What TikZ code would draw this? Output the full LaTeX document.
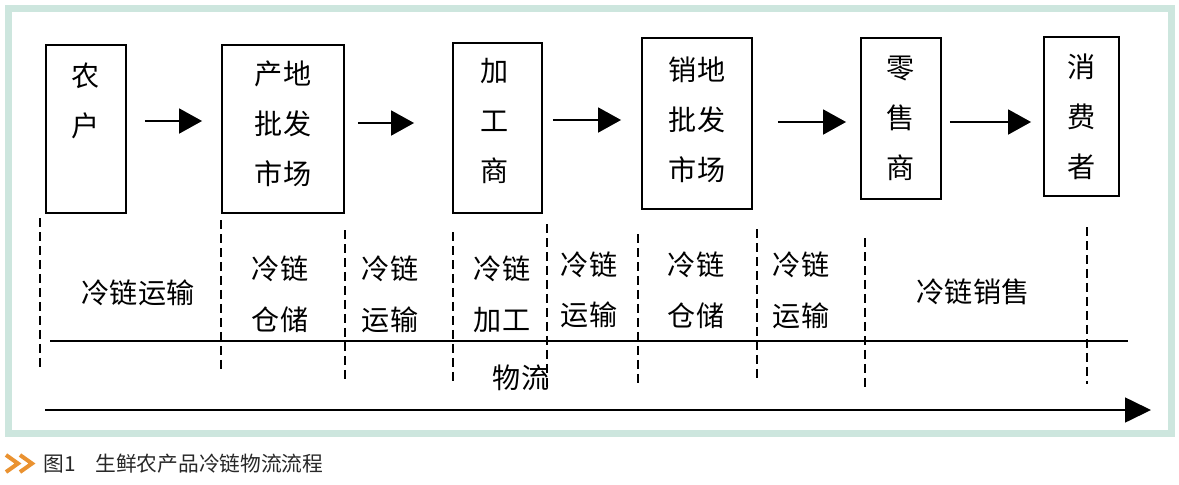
\documentclass[tikz,border=0pt]{standalone}
\usepackage{fontspec}
\setmainfont{Noto Sans CJK SC}
\usetikzlibrary{arrows.meta,calc}
\definecolor{framegreen}{RGB}{205,230,222}
\definecolor{captionorange}{RGB}{234,146,48}
\definecolor{captiongray}{RGB}{40,40,40}
\tikzset{
  stage/.style={draw, line width=1.1pt, inner sep=0pt},
  boxtext/.style={align=center, inner sep=0pt, font=\fontsize{16}{28.5}\selectfont},
  steptext/.style={align=center, inner sep=0pt, font=\fontsize{16}{28.8}\selectfont},
  flow/.style={line width=1.1pt, -{Triangle[length=0.46cm,width=0.5cm]}},
  divider/.style={line width=0.7pt, dash pattern=on 0.18cm off 0.1cm},
  captiontext/.style={inner sep=0pt, text=captiongray, font=\fontsize{11.8}{14}\selectfont},
}

\begin{document}
\begin{tikzpicture}[x=0.02cm, y=-0.02cm]
\useasboundingbox (0,0) rectangle (1179,484);
\fill[white] (0,0) rectangle (1179,484);
\draw[framegreen, line width=0.14cm] (8.5,8.5) rectangle (1171,433);

\node[stage, minimum width=1.6cm, minimum height=3.36cm] (farmer) at (86,129) {};
\node[stage, minimum width=2.44cm, minimum height=3.36cm] (originmarket) at (283,129) {};
\node[stage, minimum width=1.78cm, minimum height=3.4cm] (processor) at (497.5,128) {};
\node[stage, minimum width=2.2cm, minimum height=3.42cm] (salesmarket) at (697,123.5) {};
\node[stage, minimum width=1.6cm, minimum height=3.22cm] (retailer) at (901,118.5) {};
\node[stage, minimum width=1.5cm, minimum height=3.18cm] (consumer) at (1081.5,116.5) {};

\node[boxtext] (farmer-t) at (86,100.5) {农\\户};
\node[boxtext] (originmarket-t) at (283,124) {产地\\批发\\市场};
\node[boxtext] (processor-t) at (495,121) {加\\工\\商};
\node[boxtext] (salesmarket-t) at (697,120) {销地\\批发\\市场};
\node[boxtext] (retailer-t) at (901,118) {零\\售\\商};
\node[boxtext] (consumer-t) at (1081.5,117) {消\\费\\者};

\draw[flow, shorten <=0.36cm, shorten >=0.38cm] (farmer.east |- 0,121) -- (originmarket.west |- 0,121);
\draw[flow, shorten <=0.26cm, shorten >=0.76cm] (originmarket.east |- 0,123) -- (processor.west |- 0,123);
\draw[flow, shorten <=0.2cm, shorten >=0.4cm] (processor.east |- 0,120) -- (salesmarket.west |- 0,120);
\draw[flow, shorten <=0.5cm, shorten >=0.28cm] (salesmarket.east |- 0,122) -- (retailer.west |- 0,122);
\draw[flow, shorten <=0.16cm, shorten >=0.24cm] (retailer.east |- 0,122) -- (consumer.west |- 0,122);

\foreach \x/\top/\bottom in {40/218/367, 221/220/369, 345/230/379, 453/232/381, 547/224/388,
    638/234/385, 757/229/379, 865/238/387, 1087/227/384}
  \draw[divider] (\x,\top) -- (\x,\bottom);

\node[steptext] (transport-a) at (138,293) {冷链运输};
\node[steptext] (storage-a) at (280,294.5) {冷链\\仓储};
\node[steptext] (transport-b) at (390,294.5) {冷链\\运输};
\node[steptext] (processing) at (502,294.5) {冷链\\加工};
\node[steptext] (transport-c) at (589,290) {冷链\\运输};
\node[steptext] (storage-b) at (696,290.5) {冷链\\仓储};
\node[steptext] (transport-d) at (801,290.5) {冷链\\运输};
\node[steptext] (selling) at (973,292) {冷链销售};
\node[steptext] (logistics) at (521,378) {物流};

\coordinate (stageline-w) at (50,341);
\coordinate (stageline-e) at (1128,341);
\draw[line width=0.8pt] (stageline-w) -- (stageline-e);
\coordinate (timeline-w) at (45,410);
\coordinate (timeline-e) at (1151,410);
\draw[line width=0.9pt, -{Triangle[length=0.52cm,width=0.5cm]}] (timeline-w) -- (timeline-e);

\draw[captionorange, line width=0.08cm] (6,455) -- (18,463.5) -- (6,472);
\draw[captionorange, line width=0.08cm] (20,455) -- (32,463.5) -- (20,472);
\node[captiontext, anchor=west] (figno) at (43,464) {图1};
\node[captiontext, anchor=west] (caption) at (95,464) {生鲜农产品冷链物流流程};
\end{tikzpicture}
\end{document}
